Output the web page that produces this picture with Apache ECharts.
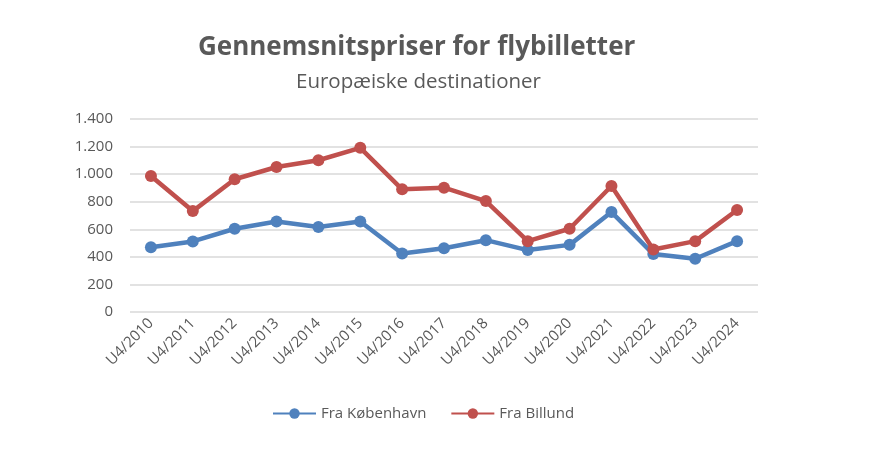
<!DOCTYPE html>
<html>
<head>
<meta charset="utf-8">
<script src="https://cdn.jsdelivr.net/npm/echarts@6/dist/echarts.min.js"></script>
<style>
  html, body { margin: 0; padding: 0; background: #fff; }
  #chart { width: 870px; height: 468px; }
</style>
</head>
<body>
<div id="chart"></div>
<script>
var quarters = ['U4/2010', 'U4/2011', 'U4/2012', 'U4/2013', 'U4/2014', 'U4/2015', 'U4/2016', 'U4/2017',
                'U4/2018', 'U4/2019', 'U4/2020', 'U4/2021', 'U4/2022', 'U4/2023', 'U4/2024'];
var fraKbh = [470, 512, 604, 657, 616, 657, 424, 463, 521, 449, 487, 725, 420, 386, 514];
var fraBillund = [987, 732, 963, 1052, 1101, 1191, 890, 902, 805, 514, 604, 914, 453, 514, 740];

var chart = echarts.init(document.getElementById('chart'));
var txt = '#595959';
var font = 'Open Sans, Liberation Sans, sans-serif';

var option = {
    backgroundColor: '#fff',
    title: [{
        text: 'Gennemsnitspriser for flybilletter',
        left: 193,
        top: 30,
        textStyle: { color: txt, fontSize: 26, fontWeight: 'bold', fontFamily: font }
    }, {
        text: 'Europæiske destinationer',
        left: 291,
        top: 67,
        textStyle: { color: txt, fontSize: 20.5, fontWeight: 'normal', fontFamily: font }
    }],
    color: ['#4F81BD', '#C0504D'],
    legend: {
        data: ['Fra København', 'Fra Billund'],
        bottom: 42,
        left: 267,
        itemWidth: 43,
        itemHeight: 13,
        itemGap: 24,
        textStyle: { color: txt, fontSize: 15, fontFamily: font }
    },
    grid: { left: 130, right: 112, top: 119, bottom: 156 },
    xAxis: {
        type: 'category',
        data: quarters,
        axisLine: { show: false },
        axisTick: { show: false },
        axisLabel: { rotate: 45, color: txt, fontSize: 15, fontFamily: font, margin: 9 }
    },
    yAxis: {
        type: 'value',
        min: 0,
        max: 1400,
        interval: 200,
        axisLine: { show: false },
        axisTick: { show: false },
        splitLine: { lineStyle: { color: '#d9d9d9', width: 1.5 } },
        axisLabel: {
            color: txt, fontSize: 15, fontFamily: font, margin: 17,
            formatter: function (v) { return String(v).replace(/\B(?=(\d{3})+(?!\d))/g, '.'); }
        }
    },
    series: [{
        name: 'Fra København',
        type: 'line',
        data: fraKbh,
        symbol: 'circle',
        symbolSize: 12,
        lineStyle: { width: 4.5 }
    }, {
        name: 'Fra Billund',
        type: 'line',
        data: fraBillund,
        symbol: 'circle',
        symbolSize: 12,
        lineStyle: { width: 4.5 }
    }]
};

chart.setOption(option);

window.onresize = function () {
    chart.resize();
};
</script>
</body>
</html>
